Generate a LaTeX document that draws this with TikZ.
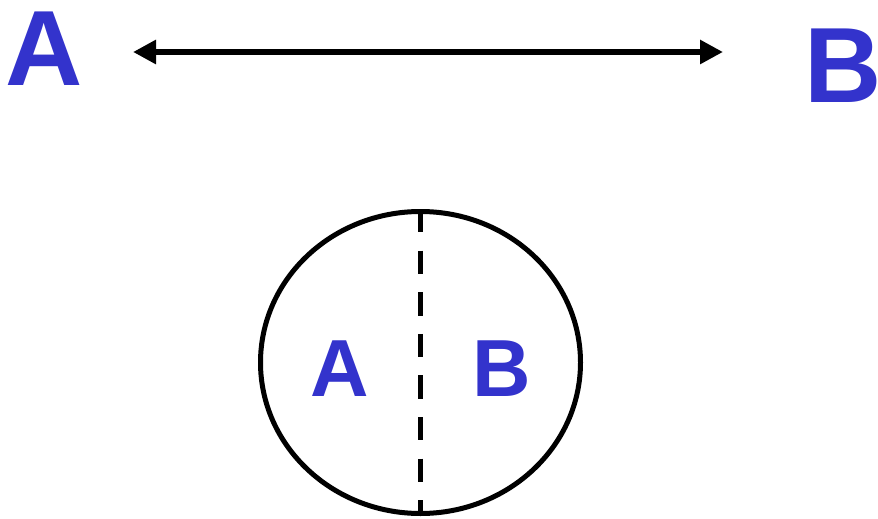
\documentclass[tikz,border=0pt]{standalone}
\usepackage{fontspec}
\setmainfont{Liberation Sans}
\usetikzlibrary{arrows.meta,shapes.geometric}
\definecolor{lblue}{HTML}{3333CC}
\tikzset{
  biglbl/.style={text=lblue,inner sep=0pt,anchor=base,font=\fontsize{107}{107}\selectfont\bfseries},
  smalllbl/.style={text=lblue,inner sep=0pt,anchor=base,font=\fontsize{81}{81}\selectfont\bfseries},
  conn/.style={line width=6pt,{Triangle[length=23pt,width=23pt]}-{Triangle[length=23pt,width=23pt]}},
}
\begin{document}
\begin{tikzpicture}[x=1pt,y=-1pt]
\useasboundingbox (0,0) rectangle (878,519);
\node[biglbl] (A) at (44,85) {A};
\node[biglbl] (B) at (843,102) {B};
\coordinate (al) at (133,52);
\coordinate (br) at (723,52);
\draw[conn] (al) -- (br);
\node[draw,ellipse,line width=5pt,minimum width=320pt,minimum height=302pt,inner sep=0pt] (circ) at (420.5,362.5) {};
\draw[line width=5pt,dash pattern=on 23.3pt off 18.3pt] (circ.north) -- (circ.south);
\node[smalllbl] (a2) at (340,396) {A};
\node[smalllbl] (b2) at (502,396) {B};
\end{tikzpicture}
\end{document}
